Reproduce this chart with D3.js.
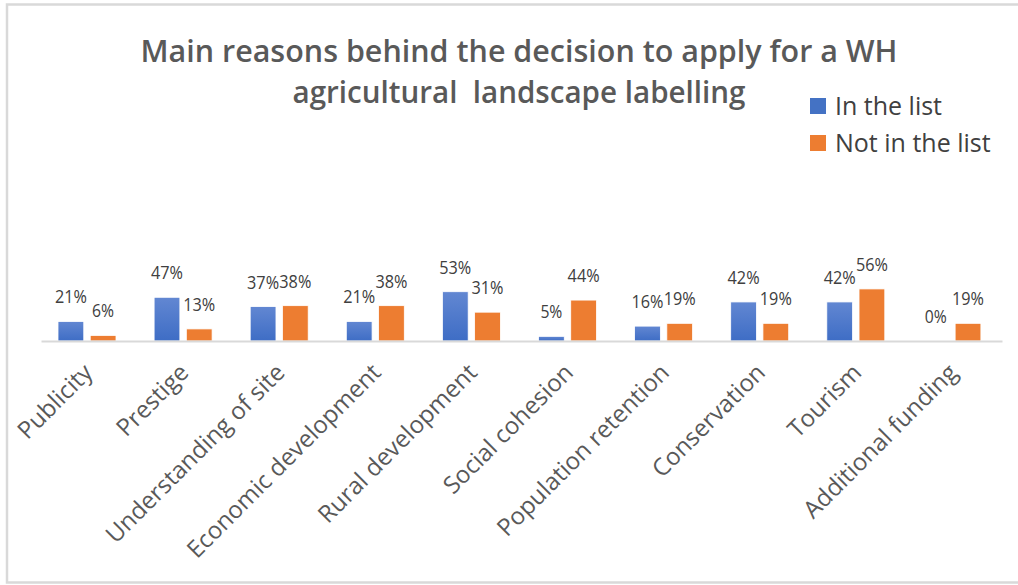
<!DOCTYPE html>
<html>
<head>
<meta charset="utf-8">
<script src="https://cdn.jsdelivr.net/npm/d3@7"></script>
<style>
    body { margin: 0; background: #fff; }
    svg { display: block; font-family: 'Open Sans', sans-serif; }
</style>
</head>
<body>
<svg class="chart" width="1018" height="585"></svg>
<script>
var categories = ['Publicity', 'Prestige', 'Understanding of site', 'Economic development', 'Rural development',
    'Social cohesion', 'Population retention', 'Conservation', 'Tourism', 'Additional funding'];
var seriesNames = ['In the list', 'Not in the list'];
var inList = [0.21, 0.47, 0.37, 0.21, 0.53, 0.05, 0.16, 0.42, 0.42, 0];
var notInList = [0.06, 0.13, 0.38, 0.38, 0.31, 0.44, 0.19, 0.19, 0.56, 0.19];
var titleLines = ['Main reasons behind the decision to apply for a WH', 'agricultural  landscape labelling'];

var seriesColors = ['url(#blueGrad)', '#ED7D31'];
var legendColors = ['#4472C4', '#ED7D31'];
var textColor = '#404040';
var axisColor = '#d9d9d9';
var baseline = 341;

var svg = d3.select('.chart');

var x0 = d3.scaleBand().domain(categories).range([41, 1002]);
var x1 = d3.scaleBand().domain(seriesNames).range([17, 75]).paddingInner(0.2);
var y = d3.scaleLinear().domain([0, 1]).range([baseline, baseline - 93]);
var pct = d3.format('.0%');

// gradient for the blue bars
var grad = svg.append('defs').append('linearGradient')
    .attr('id', 'blueGrad')
    .attr('x1', 0).attr('y1', 0).attr('x2', 0).attr('y2', 1);
grad.append('stop').attr('offset', '0%').attr('stop-color', '#6287d2');
grad.append('stop').attr('offset', '100%').attr('stop-color', '#3e6dc5');

// outer frame
svg.append('rect')
    .attr('x', 7).attr('y', 4.5)
    .attr('width', 1030).attr('height', 578)
    .style('fill', 'none')
    .style('stroke', axisColor)
    .style('stroke-width', 2.5);

// title
svg.append('g').selectAll('text')
    .data(titleLines)
    .join('text')
    .attr('x', 519)
    .attr('y', function(d, i) { return 62 + i * 41; })
    .attr('text-anchor', 'middle')
    .attr('textLength', function(d, i) { return i === 0 ? 757 : 453; })
    .attr('lengthAdjust', 'spacingAndGlyphs')
    .style('white-space', 'pre')
    .style('font-size', '31px')
    .style('font-weight', 600)
    .style('fill', '#595959')
    .text(function(d) { return d; });

// bar data
var rows = categories.map(function(c, i) {
    return {
        category: c,
        values: [
            { series: seriesNames[0], value: inList[i], idx: 0 },
            { series: seriesNames[1], value: notInList[i], idx: 1 }
        ]
    };
});

var groups = svg.append('g')
    .selectAll('g')
    .data(rows)
    .join('g')
    .attr('transform', function(d) { return 'translate(' + x0(d.category) + ',0)'; });

groups.selectAll('rect')
    .data(function(d) { return d.values; })
    .join('rect')
    .attr('x', function(d) { return x1(d.series); })
    .attr('y', function(d) { return y(d.value); })
    .attr('width', x1.bandwidth())
    .attr('height', function(d) { return baseline - y(d.value); })
    .style('fill', function(d) { return seriesColors[d.idx]; })
    .style('stroke', '#fff')
    .style('stroke-width', 0.8);

// value labels, squeezed a little so neighbours don't touch
groups.selectAll('text')
    .data(function(d) { return d.values; })
    .join('text')
    .attr('x', function(d) { return x1(d.series) + x1.bandwidth() / 2; })
    .attr('y', function(d) { return y(d.value) - 18; })
    .attr('text-anchor', 'middle')
    .attr('textLength', function(d) { return d.value < 0.1 ? 22 : 32; })
    .attr('lengthAdjust', 'spacingAndGlyphs')
    .style('font-size', '18px')
    .style('fill', textColor)
    .text(function(d) { return pct(d.value); });

// category axis
var axis = d3.axisBottom(x0).tickSize(0).tickPadding(0);
var axisG = svg.append('g')
    .attr('transform', 'translate(0,' + baseline + ')')
    .call(axis);
axisG.select('.domain')
    .attr('stroke', axisColor)
    .attr('stroke-width', 2);
axisG.selectAll('.tick text')
    .attr('text-anchor', 'end')
    .attr('transform', 'translate(5,33) rotate(-45)')
    .attr('dy', 0)
    .style('font-family', "'Open Sans', sans-serif")
    .style('font-size', '24px')
    .style('fill', '#595959');

// legend
var legend = svg.append('g')
    .selectAll('g')
    .data(seriesNames)
    .join('g')
    .attr('transform', function(d, i) { return 'translate(810,' + (98 + i * 37) + ')'; });

legend.append('rect')
    .attr('width', 16)
    .attr('height', 16)
    .style('fill', function(d, i) { return legendColors[i]; });

legend.append('text')
    .attr('x', 25)
    .attr('y', 17)
    .style('font-size', '25px')
    .style('fill', textColor)
    .text(function(d) { return d; });
</script>
</body>
</html>
